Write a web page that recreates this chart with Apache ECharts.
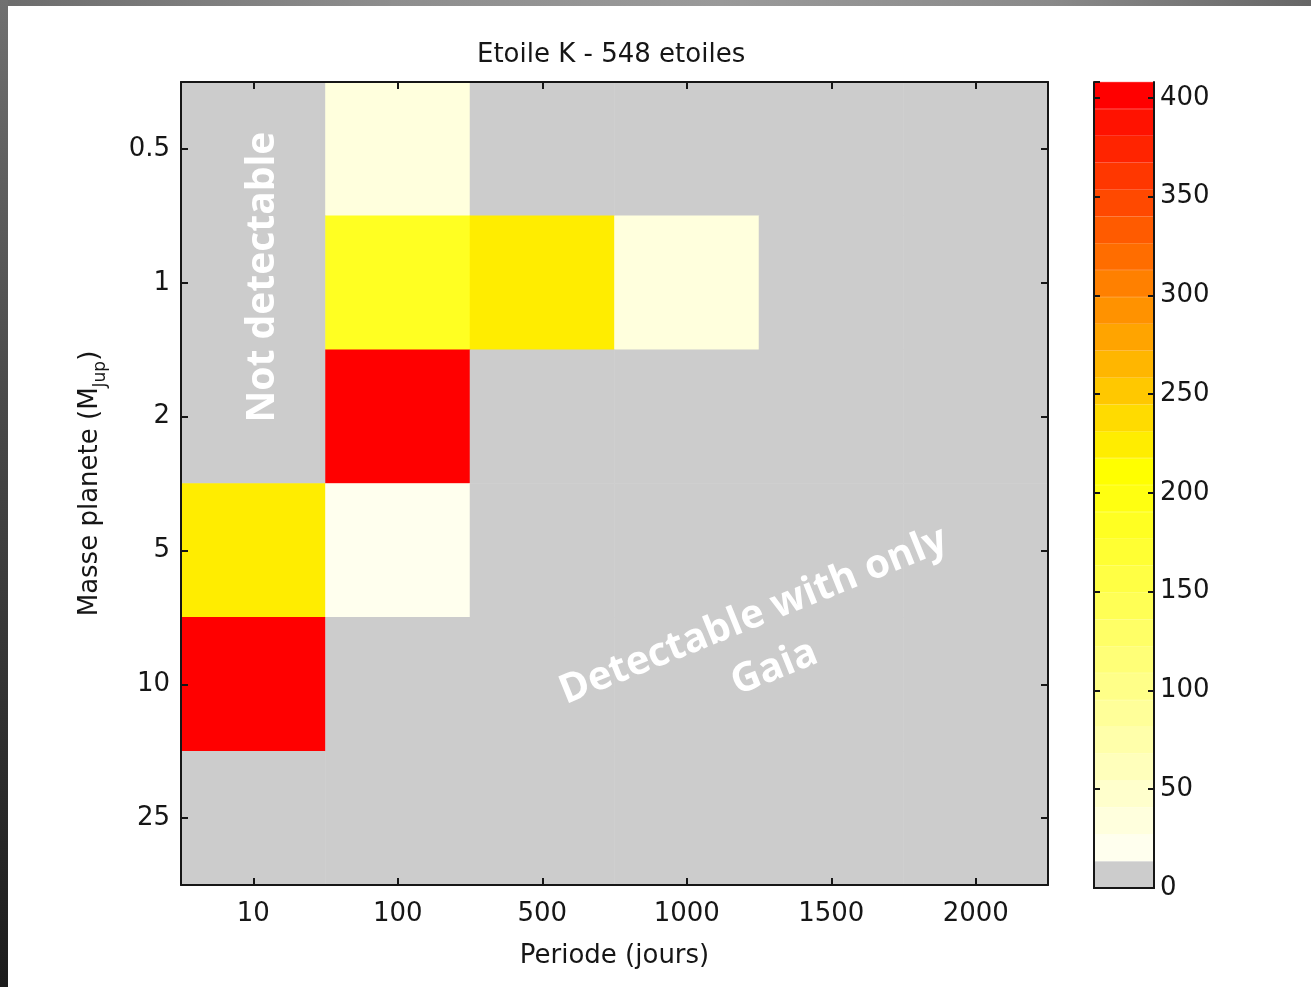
<!DOCTYPE html>
<html>
<head>
<meta charset="utf-8">
<script src="https://cdn.jsdelivr.net/npm/echarts@6/dist/echarts.min.js"></script>
<style>
  html, body { margin: 0; padding: 0; background: #fff; }
  #chart {
    width: 1311px;
    height: 987px;
    background:
      linear-gradient(to bottom, #707070, #4a4a4a 40%, #1c1c1c) left top / 8px 100% no-repeat,
      linear-gradient(to right, #6c6c6c, #8e8e8e 30%, #9a9a9a 55%, #8a8a8a 80%, #666) left top / 100% 6px no-repeat,
      #fff;
  }
</style>
</head>
<body>
<div id="chart"></div>
<script>
// axes
const periods = ['10', '100', '500', '1000', '1500', '2000'];
const masses = ['0.5', '1', '2', '5', '10', '25'];

// counts, one row per mass (top to bottom), one value per period column
const row_05 = [0, 34, 0, 0, 0, 0];
const row_1 = [0, 185, 225, 34, 0, 0];
const row_2 = [0, 400, 0, 0, 0, 0];
const row_5 = [225, 20, 0, 0, 0, 0];
const row_10 = [400, 0, 0, 0, 0, 0];
const row_25 = [0, 0, 0, 0, 0, 0];
const rows = [row_05, row_1, row_2, row_5, row_10, row_25];

// colorbar
const cbMax = 408;
const cbBands = 30;

const FONT = 'DejaVu Sans';
const INK = '#161616';
const step = cbMax / cbBands;

// gray for empty, then white -> yellow -> red
function bandColor(i) {
  if (i === 0) return '#cccccc';
  if (i <= 15) {
    const b = Math.round(255 * (15 - i) / 15);
    return 'rgb(255,255,' + b + ')';
  }
  const g = Math.round(255 * (29 - i) / 14);
  return 'rgb(255,' + g + ',0)';
}
const bandColors = [];
for (let i = 0; i < cbBands; i++) bandColors.push(bandColor(i));

const heatData = [];
rows.forEach((r, y) => r.forEach((v, x) => heatData.push([x, y, v])));

const line = { show: true, lineStyle: { color: INK, width: 2 } };
const tick = { show: true, inside: true, length: 7, alignWithLabel: true, interval: 0, lineStyle: { color: INK, width: 2 } };
const cbTick = { show: true, inside: true, length: 6, lineStyle: { color: INK, width: 2 } };
const label = { fontFamily: FONT, fontSize: 26, color: INK };

const cbSeries = bandColors.map((c, i) => ({
  type: 'bar',
  xAxisIndex: 2,
  yAxisIndex: 2,
  stack: 'cb',
  data: [step],
  barWidth: '100%',
  silent: true,
  itemStyle: { color: c, borderColor: c, borderWidth: 0.6 }
}));

const chart = echarts.init(document.getElementById('chart'));
chart.setOption({
  animation: false,
  title: {
    text: 'Etoile K - 548 etoiles',
    left: 472,
    top: 37,
    textStyle: { fontFamily: FONT, fontSize: 26, fontWeight: 'normal', color: INK }
  },
  grid: [
    { left: 181, top: 82, width: 867, height: 803 },
    { left: 1094, top: 82, width: 60, height: 806 }
  ],
  xAxis: [
    {
      gridIndex: 0, type: 'category', data: periods, position: 'bottom', z: 10,
      axisLine: line, axisTick: tick,
      axisLabel: Object.assign({ margin: 16, interval: 0 }, label),
      name: 'Periode (jours)', nameLocation: 'middle', nameGap: 58,
      nameTextStyle: label
    },
    {
      gridIndex: 0, type: 'category', data: periods, position: 'top', z: 10,
      axisLine: line, axisTick: tick, axisLabel: { show: false }
    },
    {
      gridIndex: 1, type: 'category', data: [''], position: 'bottom', z: 10,
      axisLine: line, axisTick: { show: false }, axisLabel: { show: false }
    },
    {
      gridIndex: 1, type: 'category', data: [''], position: 'top', z: 10,
      axisLine: line, axisTick: { show: false }, axisLabel: { show: false }
    }
  ],
  yAxis: [
    {
      gridIndex: 0, type: 'category', data: masses, inverse: true, position: 'left', z: 10,
      axisLine: line, axisTick: tick,
      axisLabel: Object.assign({ margin: 11, interval: 0 }, label),
      name: 'Masse planete (M{sub|Jup})', nameLocation: 'middle', nameGap: 76,
      nameTextStyle: Object.assign({ lineHeight: 30 }, label, {
        rich: { sub: { fontFamily: FONT, fontSize: 17, lineHeight: 17, color: INK, padding: [22, 0, 0, 0] } }
      })
    },
    {
      gridIndex: 0, type: 'category', data: masses, inverse: true, position: 'right', z: 10,
      axisLine: line, axisTick: tick, axisLabel: { show: false }
    },
    {
      gridIndex: 1, type: 'value', min: 0, max: cbMax, interval: 50, position: 'right', z: 10,
      axisLine: line, axisTick: cbTick,
      axisLabel: Object.assign({ margin: 6, showMaxLabel: false }, label),
      splitLine: { show: false }
    },
    {
      gridIndex: 1, type: 'value', min: 0, max: cbMax, interval: 50, position: 'left', z: 10,
      axisLine: line, axisTick: cbTick,
      axisLabel: { show: false },
      splitLine: { show: false }
    }
  ],
  visualMap: {
    type: 'piecewise',
    show: false,
    seriesIndex: 0,
    dimension: 2,
    pieces: bandColors.map((c, i) => (
      i === cbBands - 1
        ? { gte: i * step, lte: cbMax * 2, color: c }
        : { gte: i * step, lt: (i + 1) * step, color: c }
    ))
  },
  series: [
    {
      type: 'heatmap',
      xAxisIndex: 0,
      yAxisIndex: 0,
      data: heatData,
      silent: true,
      itemStyle: { borderWidth: 0 }
    }
  ].concat(cbSeries),
  graphic: [
    {
      type: 'text', x: 263, y: 277, rotation: Math.PI / 2, z: 100,
      style: {
        text: 'Not detectable', fill: '#ffffff',
        fontFamily: 'Open Sans', fontWeight: 'bold', fontSize: 39,
        align: 'center', verticalAlign: 'middle',
        textAlign: 'center', textVerticalAlign: 'middle'
      }
    },
    {
      type: 'text', x: 764, y: 642, rotation: 22 * Math.PI / 180, z: 100,
      style: {
        text: 'Detectable with only\nGaia', fill: '#ffffff',
        fontFamily: 'Open Sans', fontWeight: 'bold', fontSize: 40, lineHeight: 56,
        align: 'center', verticalAlign: 'middle',
        textAlign: 'center', textVerticalAlign: 'middle'
      }
    }
  ]
});
</script>
</body>
</html>
